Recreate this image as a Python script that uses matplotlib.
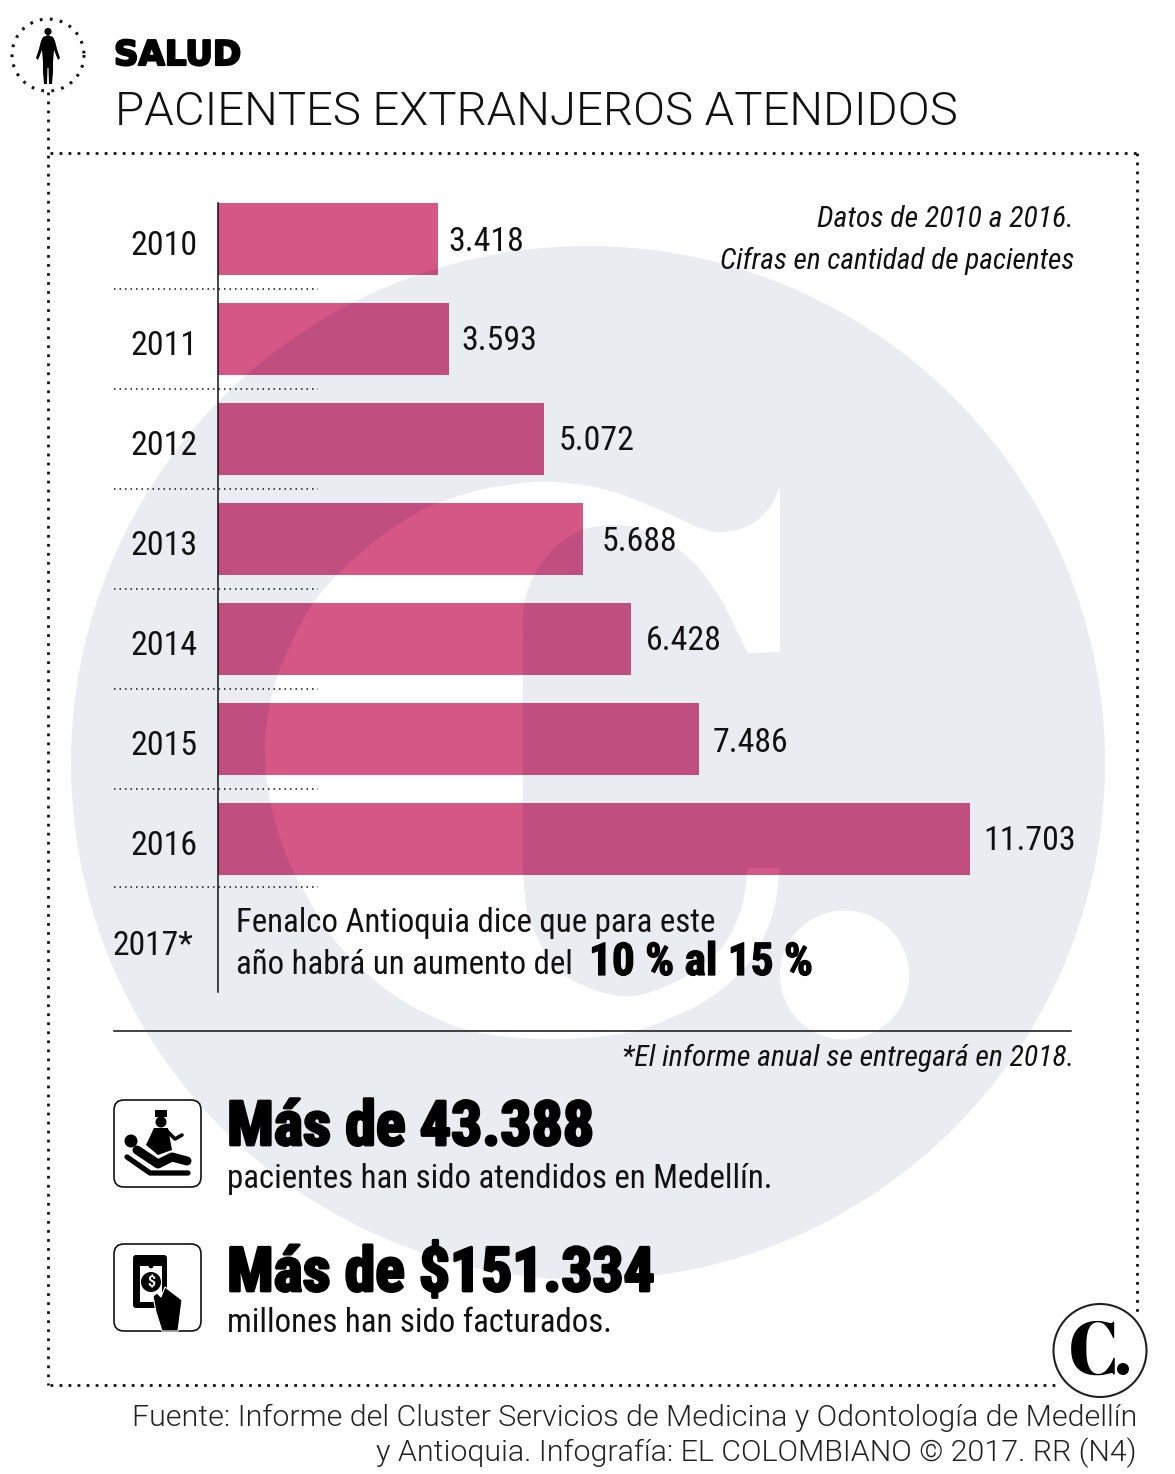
import numpy as np
import matplotlib
matplotlib.use("Agg")
import matplotlib.pyplot as plt
import matplotlib.patheffects as pe
from matplotlib.path import Path
from matplotlib.patches import PathPatch, Circle, FancyBboxPatch, Polygon, Rectangle
from matplotlib.transforms import ScaledTranslation

# data
years = ["2010", "2011", "2012", "2013", "2014", "2015", "2016"]
patients = [3418, 3593, 5072, 5688, 6428, 7486, 11703]
patient_labels = ["3.418", "3.593", "5.072", "5.688", "6.428", "7.486", "11.703"]

# label nudges in pixels, not data
label_dx = [11, 12, 15, 18, 15, 14, 13]
label_dy = [-12, -11, -11, -12, -11, -13, -11]

PINK = "#D55786"
DARK_PINK = "#C04F80"
GREY = "#E9ECF1"
NARROW = ["Roboto Condensed", "Liberation Sans", "DejaVu Sans"]
LIGHT = ["Roboto", "Liberation Sans", "DejaVu Sans"]
INK = "#111111"

W, H = 1175, 1474
fig = plt.figure(figsize=(W / 100, H / 100), dpi=100, facecolor="white")

# whole page in pixel coordinates, used for everything that is not the bars
bg = fig.add_axes([0, 0, 1, 1], zorder=0)
bg.set_xlim(0, W)
bg.set_ylim(H, 0)
bg.axis("off")


def smooth(pts, n=14):
    # catmull-rom through the points
    pts = np.array(pts, dtype=float)
    p = np.vstack([2 * pts[0] - pts[1], pts, 2 * pts[-1] - pts[-2]])
    out = []
    for i in range(1, len(p) - 2):
        for t in np.linspace(0, 1, n, endpoint=False):
            out.append(0.5 * (2 * p[i] + (p[i + 1] - p[i - 1]) * t
                              + (2 * p[i - 1] - 5 * p[i] + 4 * p[i + 1] - p[i + 2]) * t ** 2
                              + (3 * p[i] - p[i - 1] - 3 * p[i + 1] + p[i + 2]) * t ** 3))
    out.append(p[-2])
    return np.array(out)


def ring(cx, cy, r, clockwise, n=240):
    a = np.linspace(0, 2 * np.pi, n)
    if clockwise:
        a = a[::-1]
    return np.column_stack([cx + r * np.cos(a), cy + r * np.sin(a)])


# the big "C." watermark behind the chart
c_outline = np.vstack([
    [[780, 487], [780, 652]],
    smooth([(748, 653), (717, 593), (683, 553), (637, 528), (593, 527), (560, 543),
            (537, 570), (525, 600), (523, 637)]),
    smooth([(523, 870), (526, 905), (534, 930), (561, 973), (621, 996), (673, 983),
            (717, 953), (740, 913), (748, 868)]),
    smooth([(780, 868), (773, 913), (753, 957), (717, 993), (673, 1017), (625, 1033),
            (555, 1039), (480, 1033), (423, 1012), (378, 983), (332, 937), (296, 876),
            (280, 838), (270, 800), (265, 760), (267, 720), (277, 677), (293, 640),
            (313, 603), (337, 575), (370, 545), (400, 523), (433, 505), (480, 490),
            (533, 482), (575, 484), (617, 493), (667, 513), (700, 528), (723, 532),
            (750, 525), (770, 507), (780, 487)]),
])


def area(v):
    return 0.5 * np.sum(v[:-1, 0] * v[1:, 1] - v[1:, 0] * v[:-1, 1])


outer = ring(588, 763, 517, False)
dot = ring(844.5, 975, 64.5, True)
if area(c_outline) * area(outer) > 0:
    c_outline = c_outline[::-1]
if area(dot) * area(outer) > 0:
    dot = dot[::-1]
mark_path = Path.make_compound_path(*[Path(np.vstack([v, v[0]]), closed=True)
                                      for v in (outer, c_outline, dot)])
bg.add_patch(PathPatch(mark_path, fc=GREY, ec="none", zorder=0))

# dotted frame
frame_style = dict(color=INK, lw=2.0, ls=(0, (1, 2.25)), zorder=2, dash_capstyle="butt")
bg.plot([48, 48], [92, 1385], **frame_style)
bg.plot([50, 1137], [153, 153], **frame_style)
bg.plot([1137, 1137], [153, 1312], **frame_style)
bg.plot([50, 1058], [1385, 1385], **frame_style)
circ = ring(48, 55, 36, False, 200)
bg.plot(circ[:, 0], circ[:, 1], color=INK, lw=2.2, ls=(0, (0.9, 2.4)), zorder=2)

# little person in the dotted circle
body = [(48, 35), (53, 37), (55, 41), (57, 49), (60, 58), (58, 60), (54, 50), (53, 62), (53, 72),
        (52, 84), (49, 84), (48.5, 68), (47.5, 68), (47, 84), (44, 84), (43, 72), (43, 62),
        (42, 50), (38, 60), (36, 58), (39, 49), (41, 41), (43, 37)]
bg.add_patch(Polygon(body, closed=True, fc="black", ec="none", zorder=3))
bg.add_patch(Circle((48, 31.5), 3.6, fc="black", ec="none", zorder=3))

# titles
bg.text(114, 65, "SALUD", family="DejaVu Sans", weight="bold", size=24.5, va="baseline", color="black",
        path_effects=[pe.withStroke(linewidth=1.6, foreground="black")])
bg.text(115, 125, "PACIENTES EXTRANJEROS ATENDIDOS", family=LIGHT, weight=300, size=34.1, va="baseline", color=INK)

# year separators
for y in [288.5, 389, 489, 589, 689, 789, 887]:
    bg.plot([114, 318], [y, y], color=INK, lw=1.1, ls=(0, (1, 2.6)), zorder=2, dash_capstyle="butt")

# bars, on their own axes
px_per_patient = 752 / 11703
ax = fig.add_axes([218 / W, 1 - 992 / H, (W - 218) / W, (992 - 189) / H], zorder=1)
ax.patch.set_alpha(0)
ax.set_xlim(0, (W - 218) / px_per_patient)
ax.set_ylim(7.53, -0.5)
ypos = np.arange(len(years))
ax.barh(ypos, patients, height=0.72, color=PINK, linewidth=0)
dark = ax.barh(ypos, patients, height=0.72, color=DARK_PINK, linewidth=0)
for b in dark:
    b.set_clip_path(mark_path, transform=bg.transData)

for s in ["top", "right", "bottom"]:
    ax.spines[s].set_visible(False)
ax.spines["left"].set_bounds(-0.36, 7.53)
ax.spines["left"].set_linewidth(1.1)
ax.spines["left"].set_color(INK)
ax.set_xticks([])
ax.set_yticks(ypos, years)
ax.tick_params(axis="y", length=0, pad=15)
for t in ax.get_yticklabels():
    t.set_family(NARROW)
    t.set_size(24.4)
    t.set_color(INK)
    t.set_transform(t.get_transform() + ScaledTranslation(0, -0.035, fig.dpi_scale_trans))

for i, lab in enumerate(patient_labels):
    ax.annotate(lab, xy=(patients[i], ypos[i]), xytext=(label_dx[i], label_dy[i]),
                textcoords="offset pixels", family=NARROW, size=24.4, va="baseline", color=INK)

# 2017 note
bg.text(193, 955, "2017*", family=NARROW, size=24.2, ha="right", va="baseline", color=INK)
bg.text(236, 932, "Fenalco Antioquia dice que para este", family=NARROW, size=23.65, va="baseline", color=INK)
bg.text(236, 974, "año habrá un aumento del", family=NARROW, size=23.65, va="baseline", color=INK)
bg.text(589, 975, "10 % al 15 %", family=NARROW, weight="bold", size=32.6, va="baseline", color="black",
        path_effects=[pe.withStroke(linewidth=0.9, foreground="black")])

# notes on the right
bg.text(1074, 227, "Datos de 2010 a 2016.", family=NARROW, style="italic", size=21.4, ha="right", va="baseline", color=INK)
bg.text(1074, 269, "Cifras en cantidad de pacientes", family=NARROW, style="italic", size=21.2, ha="right", va="baseline", color=INK)
bg.plot([114, 1071], [1031, 1031], color=INK, lw=1.1, zorder=2)
bg.text(1074, 1066, "*El informe anual se entregará en 2018.", family=NARROW, style="italic", size=21.4, ha="right", va="baseline", color=INK)

# big figures
heavy = [pe.withStroke(linewidth=2.0, foreground="black")]
bg.text(227, 1145, "Más de 43.388", family=NARROW, weight="bold", size=44.5, va="baseline", color="black", path_effects=heavy)
bg.text(227, 1188, "pacientes han sido atendidos en Medellín.", family=NARROW, size=23.65, va="baseline", color=INK)
bg.text(227, 1291, "Más de $151.334", family=NARROW, weight="bold", size=44.3, va="baseline", color="black", path_effects=heavy)
bg.text(227, 1332, "millones han sido facturados.", family=NARROW, size=23.65, va="baseline", color=INK)

# icon boxes
for top in [1100, 1244]:
    bg.add_patch(FancyBboxPatch((114 + 10, top + 10), 67, 67, boxstyle="round,pad=10,rounding_size=10",
                                fc="white", ec=INK, lw=1.2, zorder=3))

# doctor and patient
bg.add_patch(Circle((131, 1141), 6.5, fc="black", ec="none", zorder=4))
bg.plot([137, 158, 172, 187], [1150, 1164, 1157, 1161], color="black", lw=6.5, solid_capstyle="round",
        solid_joinstyle="round", zorder=4)
bg.plot([127, 150, 188], [1157, 1173, 1173], color="black", lw=3.8, solid_capstyle="round",
        solid_joinstyle="round", zorder=4)
bg.add_patch(Polygon([(146, 1145), (154, 1128), (168, 1128), (172, 1150), (158, 1155)], fc="black", ec="none", zorder=4))
bg.add_patch(Rectangle((155, 1110), 12, 7, fc="black", ec="none", zorder=4))
bg.add_patch(Circle((161, 1122), 5.5, fc="black", ec="none", zorder=4))
bg.plot([166, 175, 182], [1130, 1139, 1135], color="black", lw=2.6, solid_capstyle="round", zorder=4)

# hand holding a banknote
bg.add_patch(FancyBboxPatch((136, 1258), 28, 47, boxstyle="round,pad=3,rounding_size=3", fc="black", ec="none", zorder=4))
bg.add_patch(Rectangle((140, 1266), 22, 36, fc="white", ec="none", zorder=4))
bg.add_patch(Circle((151, 1266), 2.4, fc="black", ec="none", zorder=4))
bg.add_patch(Circle((151, 1282), 10, fc="black", ec="none", zorder=4))
bg.text(151, 1282, "$", family=LIGHT, weight="bold", size=10, color="white", ha="center", va="center", zorder=5)
bg.add_patch(Polygon([(153, 1296), (157, 1293), (161, 1297), (165, 1287), (182, 1300), (178, 1331),
                      (162, 1331), (156, 1312)], fc="black", ec="white", lw=0.8, zorder=5))

# newspaper logo
bg.add_patch(Circle((1100, 1350.5), 46.5, fc="white", ec="#222222", lw=1.5, zorder=6))
bg.text(1094, 1375, "C", family=["Abril Fatface", "DejaVu Serif"], size=54, ha="center", va="baseline", color="black", zorder=7)
bg.add_patch(Circle((1123, 1369), 6, fc="black", ec="none", zorder=7))

# source
bg.text(1137, 1426, "Fuente: Informe del Cluster Servicios de Medicina y Odontología de Medellín",
        family=LIGHT, weight=300, size=21.85, ha="right", va="baseline", color="#222222")
bg.text(1137, 1461, "y Antioquia. Infografía: EL COLOMBIANO © 2017. RR (N4)",
        family=LIGHT, weight=300, size=21.85, ha="right", va="baseline", color="#222222")

fig.savefig("out.png", dpi=100, facecolor="white")
